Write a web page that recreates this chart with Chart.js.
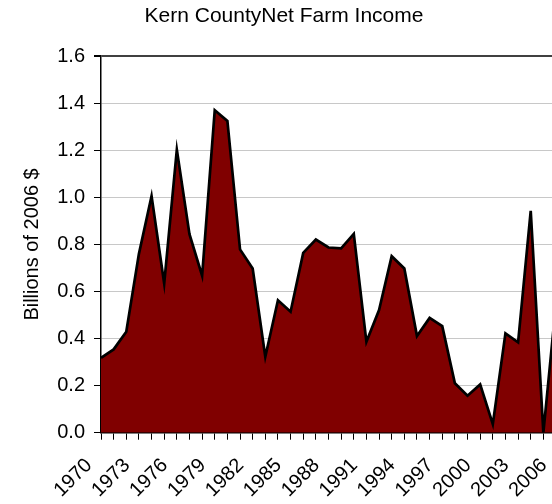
<!DOCTYPE html>
<html>
<head>
<meta charset="utf-8">
<script src="https://cdn.jsdelivr.net/npm/chart.js@4.4.1/dist/chart.umd.min.js"></script>
<style>
  html, body { margin: 0; padding: 0; background: #fff; overflow: hidden; }
  #wrap { width: 552px; height: 504px; overflow: hidden; }
</style>
</head>
<body>
<div id="wrap"><canvas id="myChart" width="556" height="504"></canvas></div>
<script>
// Kern County net farm income, billions of 2006 dollars
const years = ['1970', '1971', '1972', '1973', '1974', '1975', '1976', '1977', '1978', '1979',
               '1980', '1981', '1982', '1983', '1984', '1985', '1986', '1987', '1988', '1989',
               '1990', '1991', '1992', '1993', '1994', '1995', '1996', '1997', '1998', '1999',
               '2000', '2001', '2002', '2003', '2004', '2005', '2006'];
const netIncome = [0.318, 0.354, 0.429, 0.76, 1.006, 0.634, 1.203, 0.844, 0.667, 1.370,
                   1.325, 0.779, 0.698, 0.323, 0.563, 0.514, 0.764, 0.821, 0.787, 0.783,
                   0.845, 0.386, 0.521, 0.750, 0.698, 0.411, 0.488, 0.453, 0.210, 0.157,
                   0.205, 0.036, 0.422, 0.384, 0.943, 0.0, 0.55];
const yMin = 0;
const yMax = 1.6;
const yStep = 0.2;

Chart.defaults.font.family = "'Liberation Sans', Arial, sans-serif";
Chart.defaults.color = '#000';

new Chart('myChart', {
    type: 'line',
    data: {
        labels: years,
        datasets: [{
            data: netIncome,
            borderColor: '#000',
            borderWidth: 2.7,
            backgroundColor: '#800000',
            fill: 'origin',
            pointRadius: 0,
            tension: 0
        }]
    },
    options: {
        responsive: false,
        animation: false,
        devicePixelRatio: 1,
        layout: { padding: { left: 12, right: 0, top: 0, bottom: 0 } },
        plugins: {
            legend: { display: false },
            tooltip: { enabled: false },
            title: {
                display: true,
                text: 'Kern CountyNet Farm Income',
                color: '#000',
                font: { size: 21, weight: 'normal' },
                padding: { top: 4, bottom: 27 }
            }
        },
        scales: {
            x: {
                offset: false,
                grid: { drawOnChartArea: false, drawTicks: true, tickLength: 7, color: '#000' },
                border: { color: '#000', width: 1.5 },
                ticks: {
                    autoSkip: false,
                    minRotation: 45,
                    maxRotation: 45,
                    color: '#000',
                    font: { size: 20 },
                    padding: 14,
                    labelOffset: -12,
                    callback: function (v, i) { return i % 3 === 0 ? years[i] : ''; }
                },
                afterFit: function (s) { s.height = 71.3; s.paddingLeft = 0; s.paddingRight = 0; }
            },
            y: {
                min: yMin,
                max: yMax,
                grid: {
                    color: c => (c.tick && c.tick.value === yMax) ? '#404040' : '#c8c8c8',
                    lineWidth: c => (c.tick && c.tick.value === yMax) ? 2 : 1,
                    tickColor: '#000',
                    tickLength: 7
                },
                border: { color: '#000', width: 1.5 },
                ticks: {
                    stepSize: yStep,
                    color: '#000',
                    font: { size: 20 },
                    padding: 9,
                    callback: v => v.toFixed(1)
                },
                title: {
                    display: true,
                    text: 'Billions of 2006 $',
                    color: '#000',
                    font: { size: 20 },
                    padding: { top: 8, bottom: 0 }
                },
                afterFit: function (s) { s.width = 89; }
            }
        }
    }
});
</script>
</body>
</html>
